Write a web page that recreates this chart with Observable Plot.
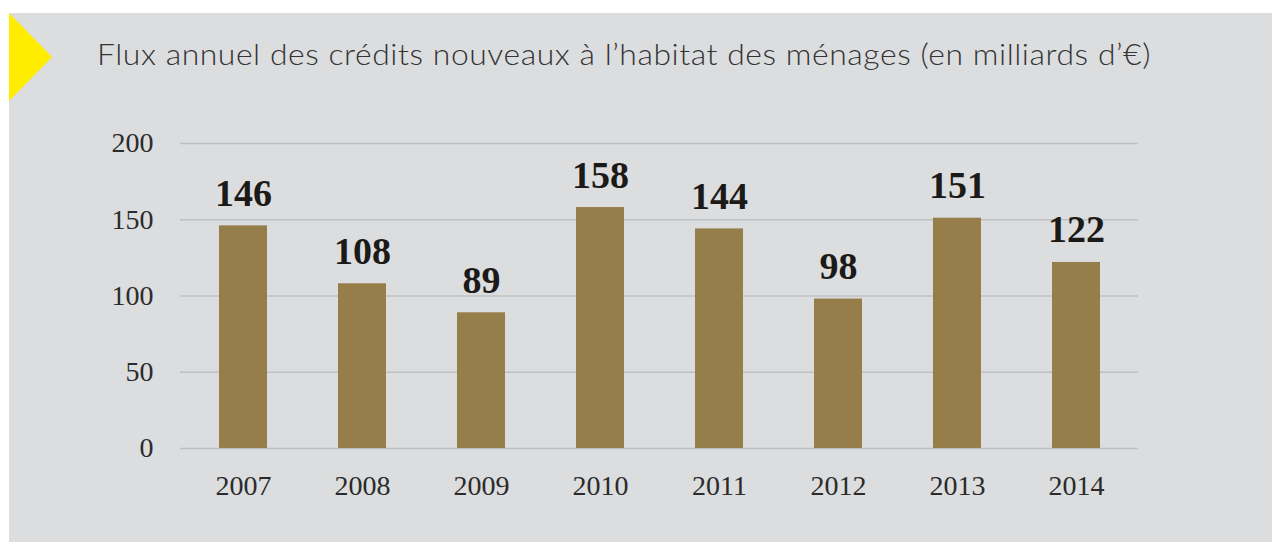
<!DOCTYPE html>
<html>
<head>
<meta charset="utf-8">
<script src="https://cdn.jsdelivr.net/npm/d3@7"></script>
<script src="https://cdn.jsdelivr.net/npm/@observablehq/plot@0.6"></script>
<style>
  html, body { margin: 0; padding: 0; background: #ffffff; width: 1272px; height: 542px; overflow: hidden; }
  #panel { position: absolute; left: 9px; top: 13px; width: 1263px; height: 529px; background: #dcdddf; }
  #tri { position: absolute; left: 9px; top: 13px; width: 0; height: 0;
         border-top: 44px solid transparent; border-bottom: 44px solid transparent; border-left: 43px solid #ffed00; }
  #title { position: absolute; left: 97px; top: 36px; font-family: Lato, "Open Sans", sans-serif; font-weight: 300;
           font-size: 29px; letter-spacing: 0.5px; color: #333333; white-space: nowrap;
           transform: scaleX(1.1); transform-origin: left center; }
  #chart { position: absolute; left: 0; top: 0; }
</style>
</head>
<body>
<div id="panel"></div>
<div id="tri"></div>
<div id="title">Flux annuel des crédits nouveaux à l’habitat des ménages (en milliards d’€)</div>
<div id="chart"></div>
<script>
const years = ["2007", "2008", "2009", "2010", "2011", "2012", "2013", "2014"];
const values = [146, 108, 89, 158, 144, 98, 151, 122];
const yTicks = [0, 50, 100, 150, 200];

const data = years.map((y, i) => ({year: y, value: values[i]}));

const chart = Plot.plot({
  width: 1272,
  height: 542,
  marginLeft: 180,
  marginRight: 134,
  marginTop: 143,
  marginBottom: 94,
  style: {background: "transparent", fontFamily: "'Liberation Serif', 'Times New Roman', serif", color: "#2b2b2b"},
  x: {domain: years, paddingInner: 0.6, paddingOuter: 0.3, label: null, tickSize: 0, tickPadding: 27},
  y: {domain: [0, 200], ticks: yTicks, label: null, tickSize: 0, tickPadding: 27},
  marks: [
    Plot.gridY(yTicks, {stroke: "#bfc0c2", strokeOpacity: 1, strokeWidth: 1.5}),
    Plot.barY(data, {x: "year", y: "value", fill: "#967e4b"}),
    Plot.axisX({fontSize: 28, tickSize: 0, tickPadding: 27, fill: "#2b2b2b"}),
    Plot.axisY({ticks: yTicks, fontSize: 28, tickSize: 0, tickPadding: 27, fill: "#2b2b2b"}),
    Plot.text(data, {x: "year", y: "value", text: d => String(d.value), lineAnchor: "bottom", dy: -20,
      fontSize: 38, fontWeight: "bold", fill: "#1c1a17"})
  ]
});
document.getElementById("chart").appendChild(chart);
</script>
</body>
</html>
